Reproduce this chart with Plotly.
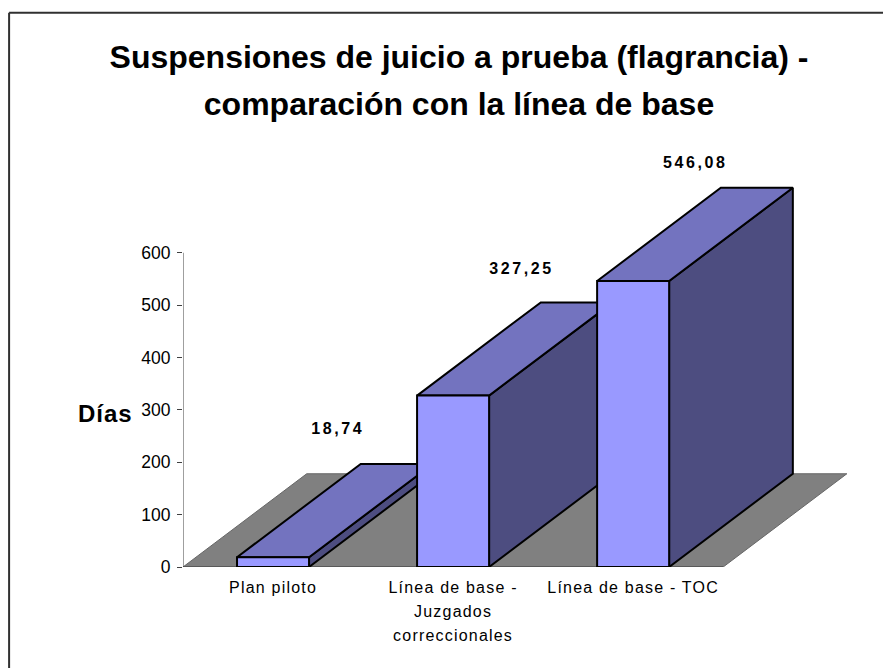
import plotly.graph_objects as go

categories = ["Plan piloto", "Línea de base -<br>Juzgados<br>correccionales", "Línea de base - TOC"]
values = [18.74, 327.25, 546.08]
value_labels = ["18,74", "327,25", "546,08"]
y_ticks = [0, 100, 200, 300, 400, 500, 600]

# fake 3d: oblique offset of the back face, in axis units
DX = 0.687
DY = 178
BAR = 0.4

FRONT = "#9999FF"
TOP = "#7373BF"
SIDE = "#4D4D80"
FLOOR = "#808080"

# hand placed labels, as in the original chart
label_dx = [0.36, 0.38, 0.345]
label_dy = [242, 240, 223]

# the page puts the figure 8px in from the window corner
PAGE = 8
W = 891 - PAGE
H = 668 - PAGE
PLOT_L = 182.85 - PAGE
PLOT_T = 148.06 - PAGE
PLOT_W = 676.8
PLOT_H = 418.64


def poly(xs, ys, color, edge="black", width=2):
    return go.Scatter(x=xs + xs[:1], y=ys + ys[:1], mode="lines", fill="toself", fillcolor=color,
                      line=dict(color=edge, width=width), hoverinfo="skip", showlegend=False)


def cat_label(c):
    span = "<span style='font-size:16px;letter-spacing:1.2px'>%s</span>"
    return "<br>".join(span % part for part in c.split("<br>"))


def px_x(x):
    return (x - 182.85) / PLOT_W


def px_y(y):
    return (566.7 - y) / PLOT_H


fig = go.Figure()
fig.add_trace(poly([-0.5, -0.5 + DX, 2.5 + DX, 2.5], [0, DY, DY, 0], FLOOR, edge="#666666", width=1))
fig.add_trace(go.Scatter(x=[-0.5, -0.5], y=[0, 600], mode="lines", line=dict(color="#404040", width=1),
                         hoverinfo="skip", showlegend=False))
fig.add_trace(go.Scatter(x=[-0.5, 2.5], y=[0, 0], mode="lines", line=dict(color="#404040", width=1),
                         hoverinfo="skip", showlegend=False))

for i, v in enumerate(values):
    x0 = i - BAR / 2
    x1 = i + BAR / 2
    fig.add_trace(poly([x1, x1 + DX, x1 + DX, x1], [0, DY, v + DY, v], SIDE))
    fig.add_trace(poly([x0, x1, x1 + DX, x0 + DX], [v, v, v + DY, v + DY], TOP))
    fig.add_trace(poly([x0, x1, x1, x0], [0, 0, v, v], FRONT))

fig.add_trace(go.Scatter(
    x=[i + d for i, d in enumerate(label_dx)],
    y=[v + d for v, d in zip(values, label_dy)],
    mode="text", cliponaxis=False,
    text=["<b><span style='letter-spacing:2.6px'>%s</span></b>" % t for t in value_labels],
    textfont=dict(family="Liberation Sans", size=16, color="black"),
    hoverinfo="skip", showlegend=False))

title_style = "font-size:32px"
fig.update_layout(
    width=W, height=H,
    paper_bgcolor="white", plot_bgcolor="white",
    margin=dict(l=PLOT_L, r=W - PLOT_L - PLOT_W, t=PLOT_T, b=H - PLOT_T - PLOT_H, autoexpand=False),
    font=dict(family="Liberation Sans", color="black"),
    title=dict(
        text="<b><span style='%s'>Suspensiones de juicio a prueba (flagrancia) -</span><br>"
             "<span style='%s'>comparación con la línea de base</span></b>" % (title_style, title_style),
        font=dict(family="Liberation Sans", size=36, color="black"),
        x=(459 - PAGE) / W, xanchor="center", y=1 - (68 - PAGE) / H, yanchor="top"),
    xaxis=dict(range=[-0.5, 3.26], tickvals=[0, 1, 2], ticktext=[cat_label(c) for c in categories],
               tickfont=dict(size=18.2), showgrid=False, zeroline=False, showline=False, ticks="",
               ticklabelstandoff=7),
    yaxis=dict(range=[0, 800], tickvals=y_ticks, tickfont=dict(size=17.5), showgrid=False, zeroline=False,
               showline=False, ticks="outside", ticklen=5, tickcolor="#404040", tickwidth=1,
               ticklabelstandoff=3),
    annotations=[dict(text="<b><span style='letter-spacing:1px'>Días</span></b>", xref="paper", yref="paper",
                      x=px_x(105), y=px_y(413), xanchor="center", yanchor="middle", showarrow=False,
                      font=dict(family="Liberation Sans", size=24, color="black"))],
    shapes=[dict(type="line", xref="paper", yref="paper", x0=px_x(9), x1=px_x(891), y0=px_y(13), y1=px_y(13),
                 line=dict(color="#303030", width=2), layer="below"),
            dict(type="line", xref="paper", yref="paper", x0=px_x(9), x1=px_x(9), y0=px_y(13), y1=px_y(668),
                 line=dict(color="#303030", width=2), layer="below")],
)

fig.write_html("out.html")
